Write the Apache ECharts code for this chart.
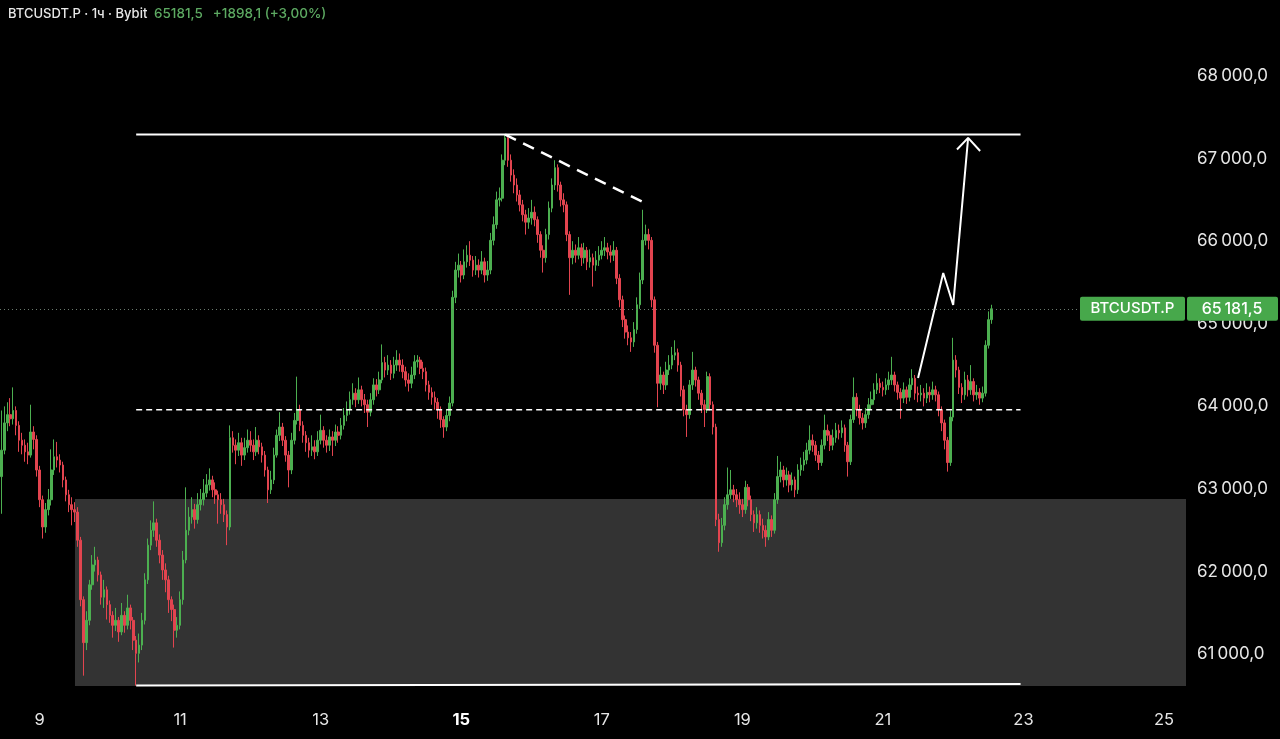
<!DOCTYPE html>
<html><head><meta charset="utf-8">
<script src="https://cdn.jsdelivr.net/npm/echarts@6/dist/echarts.min.js"></script>
<style>html,body{margin:0;padding:0;background:#000;}#c{width:1280px;height:739px;}</style>
</head><body><div id="c"></div><script>
// ---------- DATA ----------
const symbolName = 'BTCUSDT.P';
const headerLabel = 'BTCUSDT.P · 1ч · Bybit';
const lastChange = 1898.1;
const lastChangePct = 3.00;
const startTime = Date.UTC(2024, 6, 8, 11); // first hourly candle
const totalSlots = 405;                       // hourly slots shown on the time axis
const xTickDays = [9, 11, 13, 15, 17, 19, 21, 23, 25];
const boldDay = 15;
const firstOpen = 63150;
const closes = [
63470,63800,63900,63850,63950,63770,63590,63530,63450,63410,
63690,63600,63230,62870,62540,62750,62870,63230,63390,63350,
63290,63110,62930,62810,62750,62720,62380,61660,61140,61410,
61840,62080,62140,61960,61690,61780,61600,61470,61350,61410,
61270,61470,61350,61560,61410,61170,61010,61110,61410,61900,
62320,62500,62590,62380,62200,62020,61900,61660,61540,61290,
61350,61660,62140,62500,62660,62750,62630,62810,62870,62950,
63050,63110,62990,62930,62870,62810,62690,62540,63620,63530,
63470,63560,63410,63500,63590,63530,63450,63590,63510,63410,
63230,62990,63110,63410,63650,63750,63590,63410,63230,63590,
63830,63960,63770,63650,63560,63470,63510,63450,63590,63710,
63590,63530,63630,63590,63690,63650,63770,63890,63960,64080,
64160,64080,64200,64080,64020,63930,64080,64260,64200,64320,
64530,64440,64500,64400,64500,64560,64500,64420,64320,64280,
64380,64540,64560,64460,64420,64260,64170,64110,64050,63960,
63840,63750,63890,64040,65320,65650,65710,65590,65750,65830,
65770,65650,65710,65650,65750,65590,65650,66010,66200,66500,
66520,66980,67250,66980,66800,66680,66560,66440,66320,66230,
66280,66350,66260,66080,65890,65800,66080,66400,66680,66890,
66680,66500,66440,66080,65800,65890,65830,65920,65800,65890,
65750,65800,65710,65770,65830,65890,65920,65870,65830,65890,
65550,65290,65050,64900,64830,64780,64930,65230,65530,66010,
66080,66010,65290,64740,64280,64380,64260,64440,64500,64620,
64650,64500,64200,63960,63900,64260,64440,64320,64160,64020,
63960,64360,64020,63750,62630,62350,62560,62810,62930,62990,
62930,62870,62810,62750,63020,62870,62690,62590,62690,62560,
62500,62420,62630,62500,62870,63150,63230,63110,63170,63050,
63110,62990,63230,63290,63350,63470,63590,63530,63410,63320,
63530,63710,63650,63530,63620,63710,63680,63740,63530,63330,
63840,64110,63960,63860,63800,63900,64020,64080,64200,64280,
64230,64200,64260,64320,64380,64260,64170,64100,64200,64110,
64260,64340,64160,64140,64160,64100,64170,64140,64200,64140,
63960,63800,63590,63320,63870,64560,64440,64230,64140,64320,
64200,64300,64140,64170,64100,64160,64740,65050,65181.5
];
const highs = [
63950,64000,64050,64100,64230,64000,63820,63680,63600,63560,
64020,63760,63650,63280,62920,62830,63000,63480,63600,63570,
63420,63330,63150,62990,62900,62840,62780,62420,61700,61520,
61900,62200,62300,62180,62000,61900,61820,61650,61520,61560,
61450,61620,61520,61720,61600,61450,61220,61250,61500,61980,
62400,62620,62850,62640,62450,62260,62100,61950,61700,61600,
61450,61760,62250,63020,62780,62900,62820,62950,63000,63120,
63180,63250,63160,63080,62980,62950,62880,62740,63770,63700,
63600,63680,63620,63620,63720,63700,63600,63750,63650,63560,
63460,63270,63220,63500,63720,63930,63800,63640,63460,63680,
63920,64360,64020,63820,63700,63620,63650,63590,63700,63900,
63760,63650,63720,63700,63780,63760,63860,63980,64060,64180,
64280,64220,64350,64250,64150,64080,64160,64340,64330,64420,
64750,64600,64620,64560,64600,64680,64640,64570,64480,64400,
64480,64620,64620,64600,64540,64470,64310,64230,64180,64100,
64000,63880,63960,64120,65400,65750,65850,65760,65900,65950,
66000,65820,65820,65780,65880,65800,65760,66100,66300,66600,
66650,67050,67290,67260,67050,66870,66760,66620,66500,66380,
66400,66500,66420,66300,66120,65950,66150,66480,66760,66980,
66930,66720,66580,66480,66120,66000,65960,66050,65970,65980,
65930,65900,65850,65880,65940,66000,66050,65980,65950,66000,
65930,65600,65340,65100,64980,64900,65020,65320,65620,66380,
66200,66150,66050,65330,64780,64480,64420,64540,64620,64720,
64800,64700,64540,64250,64020,64320,64660,64480,64360,64200,
64080,64420,64400,64060,63790,62700,62650,62900,63260,63230,
63050,63000,62960,62880,63100,63060,62920,62740,62780,62740,
62640,62560,62720,62680,62950,63400,63330,63280,63260,63220,
63200,63150,63300,63380,63450,63560,63770,63660,63580,63460,
63600,63900,63780,63700,63720,63800,63780,63830,63780,63570,
63900,64350,64160,64020,63920,63980,64100,64180,64280,64400,
64340,64300,64340,64420,64600,64420,64300,64220,64290,64240,
64340,64450,64380,64240,64260,64220,64280,64240,64300,64250,
64180,64000,63840,63630,63950,64830,64620,64480,64280,64420,
64380,64500,64340,64260,64220,64240,64800,65150,65230
];
const lows = [
62700,63420,63700,63760,63780,63650,63450,63420,63330,63300,
63380,63480,63150,62780,62400,62470,62680,62800,63170,63260,
63200,63020,62850,62720,62560,62600,62300,61580,60740,61050,
61350,61780,62000,61880,61600,61560,61420,61380,61200,61280,
61150,61230,61260,61300,61300,61050,60620,60900,61050,61360,
61850,62260,62420,62300,62100,61900,61750,61500,61400,61080,
61200,61300,61600,62100,62440,62580,62520,62580,62740,62800,
62900,62980,62900,62820,62580,62700,62600,62320,62500,63440,
63300,63400,63280,63350,63440,63450,63350,63400,63420,63320,
63150,62830,62940,63060,63380,63580,63520,63330,63020,63180,
63540,63780,63700,63560,63450,63380,63400,63360,63400,63540,
63500,63440,63460,63400,63520,63560,63600,63720,63820,63900,
64020,63990,64030,64000,63920,63750,63880,64020,64120,64150,
64280,64350,64380,64320,64340,64430,64420,64340,64240,64180,
64220,64330,64470,64390,64330,64180,64080,64020,63960,63850,
63740,63620,63700,63820,64000,65250,65560,65500,65540,65680,
65700,65570,65590,65560,65600,65500,65520,65600,65950,66150,
66420,66480,66920,66900,66720,66580,66480,66360,66240,66080,
66150,66200,66180,65980,65800,65620,65740,66020,66350,66620,
66600,66420,66350,66000,65350,65720,65740,65780,65700,65730,
65650,65680,65450,65640,65700,65780,65820,65780,65740,65760,
65480,65200,64960,64820,64740,64660,64720,64880,65180,65480,
65950,65900,65200,64650,63990,64200,64150,64200,64380,64450,
64560,64420,64120,63880,63630,63850,64200,64240,64080,63920,
63750,63920,63950,63660,62550,62240,62300,62500,62750,62880,
62840,62780,62700,62660,62700,62790,62610,62480,62520,62470,
62400,62300,62380,62420,62460,62820,63080,63020,63040,62960,
62980,62900,62940,63160,63220,63300,63420,63450,63340,63230,
63280,63480,63580,63460,63470,63560,63600,63620,63450,63150,
63290,63800,63880,63780,63720,63740,63850,63960,64020,64150,
64160,64120,64140,64200,64260,64180,64080,63850,64040,64030,
64060,64200,64080,64050,64060,64000,64040,64050,64080,64060,
63880,63700,63480,63210,63280,63820,64350,64150,64040,64080,
64120,64140,64060,64080,64020,64050,64120,64700,65000
];
// Annotations (x = hourly slot index, y = price)
const levelTop = [[46, 67290], [348, 67290]];
const levelBottom = [[46, 60620], [348, 60640]];
const levelMid = [[46, 63960], [348, 63960]];
const trendDash = [[172, 67290], [221, 66440]];
const arrowPath = [[313, 64344], [321.6, 65615], [325, 65227], [330.1, 67250]];
const arrowHead = [[326.3, 67109], [330.1, 67250], [334.2, 67092]];
const zone = [[25.1, 62880, 404.5, 60615]];

// ---------- CHART ----------
const FONT = 'Inter, "Noto Sans", Roboto, sans-serif';
const lastClose = closes[closes.length - 1];
function fmt(v, dec, sep) {
  const s = Math.abs(v).toFixed(dec);
  let parts = s.split('.');
  let ip = parts[0].replace(/\B(?=(\d{3})+(?!\d))/g, sep);
  return (v < 0 ? '-' : '') + ip + (parts[1] ? ',' + parts[1] : '');
}
const catData = [];
for (let i = 0; i < totalSlots; i++) {
  const d = new Date(startTime + i * 3600000);
  catData.push(d.getUTCDate() + '|' + d.getUTCHours());
}
const candleData = closes.map((c, i) => [i === 0 ? firstOpen : closes[i - 1], c, lows[i], highs[i]]);

const chart = echarts.init(document.getElementById('c'), null, {renderer: 'canvas'});
const UP = '#4caf50', DOWN = '#e2444f';
function lineSeries(data, width, type) {
  return {
    type: 'line', xAxisIndex: 1, yAxisIndex: 0, data: data, showSymbol: false, symbol: 'none',
    silent: true, z: 6, lineStyle: {color: '#ffffff', width: width, type: type || 'solid'}, animation: false
  };
}
chart.setOption({
  backgroundColor: '#000000',
  animation: false,
  textStyle: {fontFamily: FONT},
  grid: {left: 0, right: 94, top: 26.4, bottom: 2.2, containLabel: false},
  xAxis: [{
    type: 'category', data: catData, boundaryGap: true,
    axisLine: {show: false}, axisTick: {show: false}, splitLine: {show: false},
    axisLabel: {
      inside: true, margin: 8, color: '#e6e6e6', fontSize: 16, fontFamily: FONT,
      interval: function (idx, val) {
        const p = val.split('|');
        return +p[1] === 0 && xTickDays.indexOf(+p[0]) >= 0;
      },
      formatter: function (val) {
        const d = +val.split('|')[0];
        return d === boldDay ? '{b|' + d + '}' : '{n|' + d + '}';
      },
      rich: {
        n: {fontSize: 16.5, color: '#e6e6e6', fontFamily: FONT},
        b: {fontSize: 16.5, color: '#ffffff', fontWeight: 'bold', fontFamily: FONT}
      }
    }
  }, {
    type: 'value', min: -0.5, max: totalSlots - 0.5, show: false
  }],
  yAxis: [{
    type: 'value', position: 'right', min: 60000, max: 68600, interval: 1000, scale: true,
    axisLine: {show: false}, axisTick: {show: false}, splitLine: {show: false},
    axisLabel: {
      color: '#e6e6e6', fontSize: 17, margin: 11, fontFamily: FONT,
      showMinLabel: false, showMaxLabel: false,
      formatter: function (v) { return v % 1000 === 0 ? fmt(v, 1, '\u2009') : ''; }
    }
  }],
  series: [
    {
      type: 'custom', xAxisIndex: 1, yAxisIndex: 0, z: 1, silent: true, data: zone,
      encode: {x: [0, 2], y: [1, 3]},
      renderItem: function (params, api) {
        const p1 = api.coord([api.value(0), api.value(1)]);
        const p2 = api.coord([api.value(2), api.value(3)]);
        return {type: 'rect', shape: {x: p1[0], y: p1[1], width: p2[0] - p1[0], height: p2[1] - p1[1]},
          style: {fill: '#333333'}};
      }
    },
    {
      type: 'candlestick', xAxisIndex: 0, yAxisIndex: 0, z: 3, data: candleData, barWidth: '72%',
      itemStyle: {color: UP, color0: DOWN, borderColor: UP, borderColor0: DOWN, borderWidth: 1},
      markLine: {
        silent: true, symbol: ['none', 'none'], animation: false,
        label: {show: false},
        lineStyle: {color: '#6a7a6d', type: [1, 3], width: 1},
        data: [{yAxis: lastClose}]
      }
    },
    lineSeries(levelTop, 2),
    lineSeries(levelBottom, 2),
    lineSeries(levelMid, 1.5, [6, 4]),
    lineSeries(trendDash, 2.5, [12, 8]),
    lineSeries(arrowPath, 2),
    lineSeries(arrowHead, 2)
  ]
});

const yPx = chart.convertToPixel({yAxisIndex: 0}, lastClose);
chart.setOption({
  graphic: [
    {type: 'rect', left: 1080, top: yPx - 12, shape: {width: 105, height: 24, r: 2}, style: {fill: '#47a84b'}, z: 20},
    {type: 'text', x: 1132.5, y: yPx, style: {text: symbolName, fill: '#ffffff', font: '500 15px ' + FONT, align: 'center', verticalAlign: 'middle'}, z: 21},
    {type: 'rect', left: 1187, top: yPx - 12, shape: {width: 91, height: 24, r: 2}, style: {fill: '#47a84b'}, z: 20},
    {type: 'text', x: 1232, y: yPx, style: {text: fmt(lastClose, 1, '\u2009'), fill: '#ffffff', font: '500 16px ' + FONT, align: 'center', verticalAlign: 'middle'}, z: 21},
    {type: 'text', left: 8, top: 7, z: 21, style: {
      text: '{w|' + headerLabel + '}  {g|' + fmt(lastClose, 1, '') + '}   {g|+' + fmt(lastChange, 1, '') + ' (+' + fmt(lastChangePct, 2, '') + '%)}',
      rich: {
        w: {fill: '#e8e8e8', font: '500 13px ' + FONT},
        g: {fill: '#5daa62', font: '500 13.5px ' + FONT}
      }
    }}
  ]
});
</script></body></html>
